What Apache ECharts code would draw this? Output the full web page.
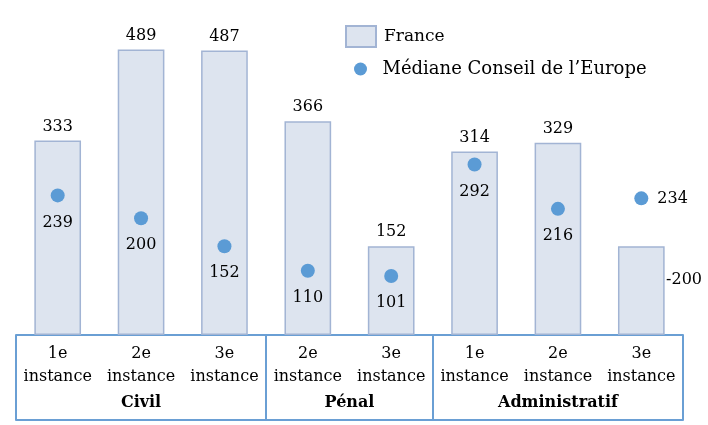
<!DOCTYPE html>
<html><head><meta charset="utf-8">
<script src="https://cdn.jsdelivr.net/npm/echarts@6/dist/echarts.min.js"></script>
<style>html,body{margin:0;padding:0;background:#fff}#c{width:708px;height:425px}</style>
</head><body><div id="c"></div>
<script>
var categories = ['1e instance','2e instance','3e instance','2e instance','3e instance','1e instance','2e instance','3e instance'];
var groupNames = ['Civil','Pénal','Administratif'];
var groupSizes = [3, 2, 3];
var franceValues = [333, 489, 487, 366, 152, 314, 329, 152];
var franceLabelShown = [true, true, true, true, true, true, true, false];
var medianValues = [239, 200, 152, 110, 101, 292, 216, 234];
var strayLabel = '-200';

var FONT = 'DejaVu Serif';
var BLUE = '#6a9fd4';

var boundaries = [0], centers = [], acc = 0;
groupSizes.forEach(function (s) { centers.push(acc + s / 2); acc += s; boundaries.push(acc); });

var chart = echarts.init(document.getElementById('c'));
chart.setOption({
  animation: false,
  textStyle: { fontFamily: FONT },
  legend: [
    { data: [{ name: 'France', icon: 'rect' }], orient: 'vertical', left: 345, top: 25, padding: 0, itemWidth: 30, itemHeight: 21,
      itemGap: 0, textStyle: { fontFamily: FONT, fontSize: 17, color: '#000', padding: [0, 0, 0, 3] } },
    { data: [{ name: 'Médiane Conseil de l\u2019Europe', icon: 'circle' }], orient: 'vertical', left: 354, top: 60, padding: 0,
      itemWidth: 30, itemHeight: 13, textStyle: { fontFamily: FONT, fontSize: 18, color: '#000', padding: [0, 0, 0, 2] } }
  ],
  grid: { left: 16, right: 25, top: 43, bottom: 90 },
  xAxis: [
    { type: 'category', data: categories, position: 'bottom',
      axisLine: { show: true, lineStyle: { color: BLUE, width: 2 } },
      axisTick: { show: true, length: 85, lineStyle: { color: BLUE, width: 2 },
        interval: function (i) { return boundaries.indexOf(i) >= 0; } },
      axisLabel: { formatter: function (v) { return v.replace(' ', '\n'); },
        fontFamily: FONT, fontSize: 16, color: '#000', lineHeight: 23, margin: 7, interval: 0 } },
    { type: 'value', min: 0, max: categories.length, interval: 0.5, position: 'bottom', offset: 85,
      axisLine: { show: true, lineStyle: { color: BLUE, width: 2 } },
      axisTick: { show: false }, splitLine: { show: false },
      axisLabel: { inside: true, margin: 9, fontFamily: FONT, fontSize: 16, fontWeight: 'bold', color: '#000',
        showMinLabel: true, showMaxLabel: true,
        formatter: function (v) { var k = centers.indexOf(v); return k >= 0 ? groupNames[k] : ''; } } }
  ],
  yAxis: { type: 'value', min: 0, max: 500, show: false, splitLine: { show: false } },
  series: [
    { name: 'France', type: 'bar', xAxisIndex: 0, barWidth: '56%',
      data: franceValues.map(function (v, i) { return franceLabelShown[i] ? v : { value: v, label: { show: false } }; }),
      itemStyle: { color: '#dde4ef', borderColor: '#a2b4d4', borderWidth: 1.5 },
      label: { show: true, position: 'top', distance: 6, fontFamily: FONT, fontSize: 16, color: '#000' } },
    { name: 'Médiane Conseil de l\u2019Europe', type: 'scatter', xAxisIndex: 0, data: medianValues.map(function (v, i) {
        return i === medianValues.length - 1 ? { value: v, label: { position: 'right', distance: 9 } } : v; }),
      symbolSize: 14, itemStyle: { color: '#5b9bd5', opacity: 1 }, z: 5,
      label: { show: true, position: 'bottom', distance: 12, fontFamily: FONT, fontSize: 16, color: '#000' } }
  ],
  graphic: [
    { type: 'text', right: 6, top: 272, style: { text: strayLabel, font: '16px "DejaVu Serif"', fill: '#000' } }
  ]
});
</script></body></html>
